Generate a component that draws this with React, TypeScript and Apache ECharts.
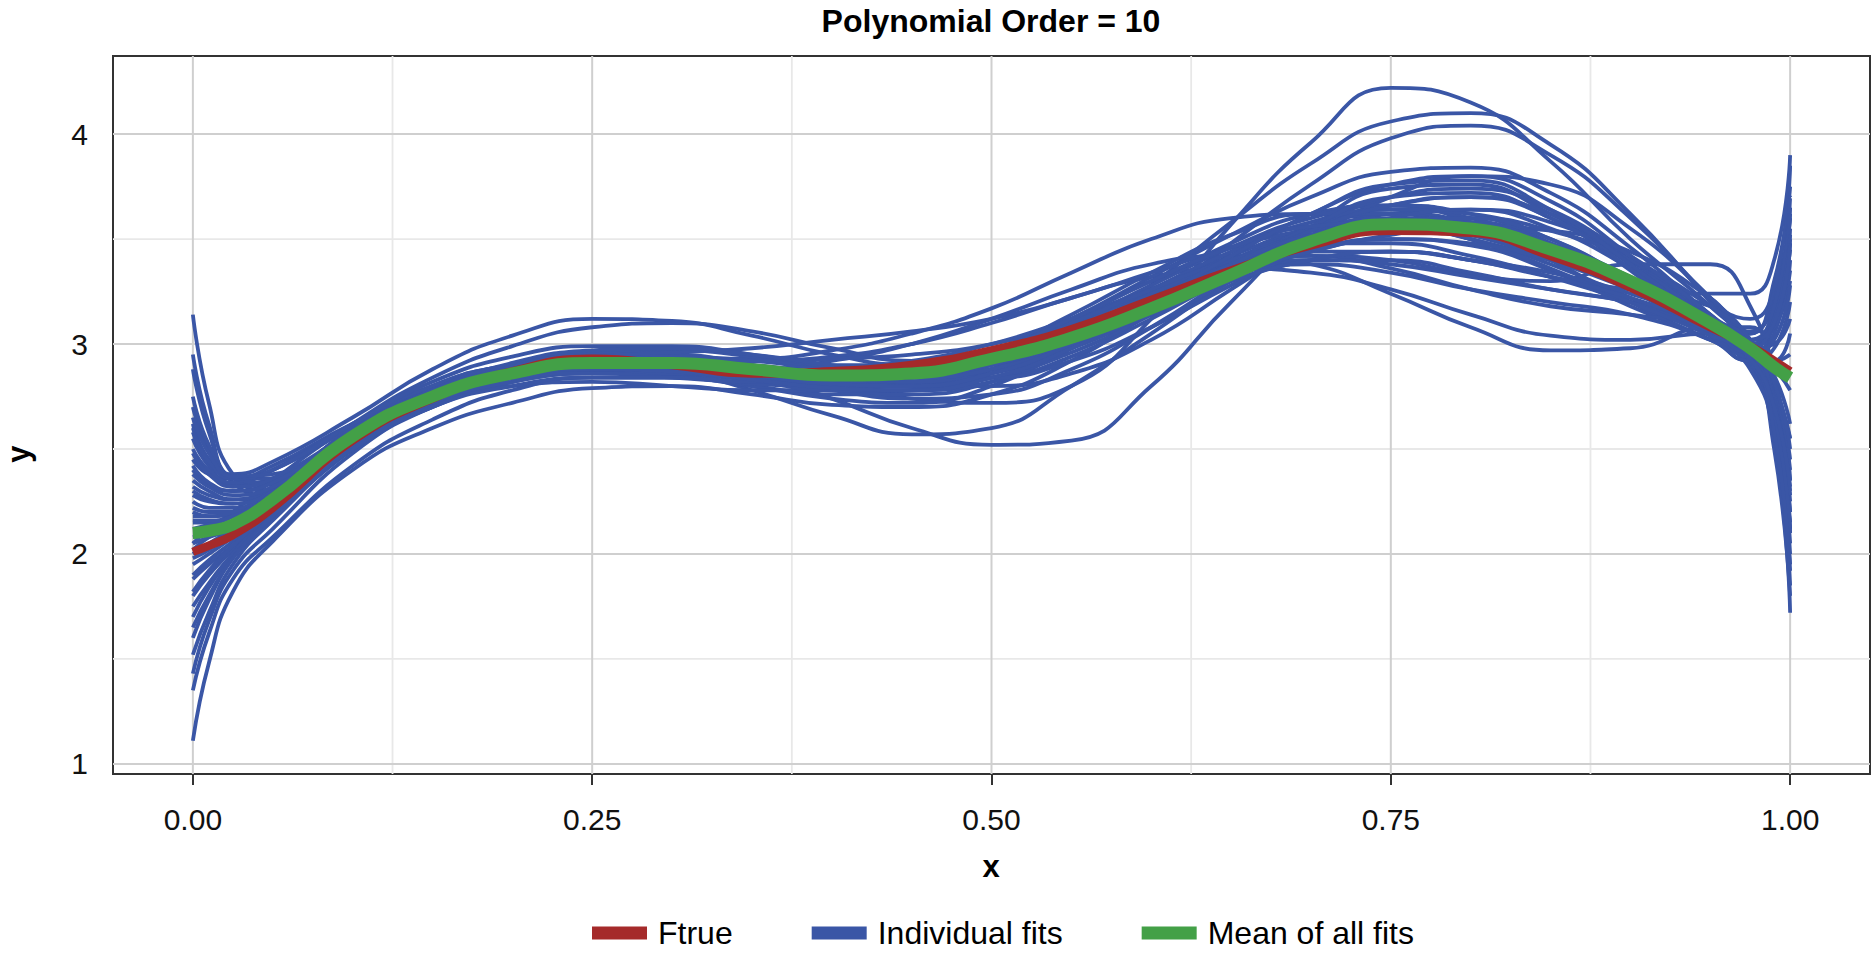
import React, { useEffect, useRef } from "react";
import * as echarts from "echarts";

const TITLE = "Polynomial Order = 10";
const X_NAME = "x";
const Y_NAME = "y";
const LEGEND_NAMES = ["Ftrue", "Individual fits", "Mean of all fits"];

const X_MIN = -0.05;
const X_MAX = 1.05;
const Y_MIN = 0.952;
const Y_MAX = 4.372;
const X_TICKS = [0, 0.25, 0.5, 0.75, 1];
const X_MINOR = [0.125, 0.375, 0.625, 0.875];
const Y_TICKS = [1, 2, 3, 4];
const Y_MINOR = [1.5, 2.5, 3.5];

const X_GRID = [0, 0.01, 0.025, 0.05, 0.1, 0.15, 0.2, 0.25, 0.3, 0.35, 0.4, 0.45, 0.5, 0.55, 0.6, 0.65, 0.7, 0.75, 0.8, 0.85, 0.9, 0.95, 0.975, 0.99, 1.0];

const FTRUE = [2.01, 2.04, 2.09, 2.22, 2.54, 2.74, 2.87, 2.93, 2.90, 2.86, 2.87, 2.90, 2.97, 3.07, 3.21, 3.35, 3.47, 3.54, 3.53, 3.42, 3.27, 3.08, 2.99, 2.92, 2.87];
const MEAN_FIT = [2.10, 2.11, 2.14, 2.26, 2.56, 2.75, 2.86, 2.91, 2.91, 2.88, 2.85, 2.86, 2.93, 3.03, 3.17, 3.33, 3.49, 3.57, 3.55, 3.45, 3.30, 3.10, 2.98, 2.89, 2.84];

const fit01 = [2.55, 2.42, 2.33, 2.36, 2.55, 2.72, 2.84, 2.90, 2.90, 2.86, 2.80, 2.74, 2.72, 2.80, 3.12, 3.57, 3.96, 4.22, 4.15, 3.87, 3.50, 3.18, 2.98, 2.70, 2.35];
const fit02 = [1.80, 1.90, 2.02, 2.18, 2.50, 2.74, 2.88, 2.94, 2.93, 2.86, 2.74, 2.60, 2.52, 2.54, 2.80, 3.20, 3.55, 3.74, 3.76, 3.62, 3.38, 3.12, 3.02, 3.15, 3.45];
const fit03 = [2.30, 2.26, 2.24, 2.30, 2.55, 2.76, 2.88, 2.92, 2.88, 2.78, 2.66, 2.57, 2.60, 2.80, 3.05, 3.30, 3.48, 3.58, 3.58, 3.47, 3.28, 3.05, 2.90, 2.62, 2.20];
const fit04 = [2.20, 2.18, 2.20, 2.30, 2.60, 2.80, 2.90, 2.93, 2.93, 2.93, 2.97, 3.05, 3.17, 3.34, 3.50, 3.60, 3.62, 3.58, 3.50, 3.40, 3.30, 3.18, 3.12, 3.25, 3.60];
const fit05 = [2.62, 2.45, 2.38, 2.44, 2.65, 2.88, 3.04, 3.12, 3.11, 3.04, 2.95, 2.90, 2.93, 3.03, 3.18, 3.33, 3.45, 3.50, 3.47, 3.35, 3.18, 3.02, 2.92, 2.55, 1.95];
const fit06 = [2.05, 2.12, 2.20, 2.35, 2.62, 2.84, 2.99, 3.08, 3.10, 3.06, 2.98, 2.92, 2.95, 3.08, 3.28, 3.48, 3.62, 3.66, 3.58, 3.40, 3.20, 3.02, 2.95, 3.10, 3.50];
const fit07 = [1.11, 1.48, 1.82, 2.06, 2.40, 2.60, 2.72, 2.79, 2.80, 2.76, 2.71, 2.70, 2.76, 2.92, 3.15, 3.38, 3.55, 3.62, 3.58, 3.46, 3.30, 3.12, 3.05, 3.30, 3.75];
const fit08 = [1.35, 1.62, 1.88, 2.08, 2.42, 2.64, 2.78, 2.84, 2.84, 2.80, 2.76, 2.78, 2.88, 3.05, 3.24, 3.38, 3.42, 3.36, 3.26, 3.18, 3.14, 3.08, 2.98, 2.58, 1.85];
const fit09 = [1.43, 1.68, 1.92, 2.12, 2.48, 2.70, 2.82, 2.87, 2.86, 2.83, 2.80, 2.82, 2.92, 3.08, 3.26, 3.42, 3.56, 3.66, 3.70, 3.60, 3.35, 3.05, 2.90, 2.75, 2.55];
const fit10 = [3.14, 2.72, 2.38, 2.30, 2.50, 2.72, 2.86, 2.93, 2.94, 2.90, 2.86, 2.86, 2.93, 3.06, 3.22, 3.38, 3.52, 3.62, 3.64, 3.55, 3.36, 3.12, 2.95, 2.62, 2.05];
const fit11 = [2.95, 2.62, 2.36, 2.33, 2.55, 2.74, 2.84, 2.88, 2.88, 2.86, 2.84, 2.86, 2.96, 3.12, 3.32, 3.52, 3.70, 3.82, 3.84, 3.72, 3.46, 3.14, 2.98, 3.12, 3.55];
const fit12 = [2.88, 2.58, 2.34, 2.28, 2.52, 2.76, 2.90, 2.96, 2.94, 2.87, 2.79, 2.76, 2.82, 2.98, 3.20, 3.42, 3.62, 3.76, 3.80, 3.68, 3.42, 3.12, 2.95, 2.60, 2.00];
const fit13 = [2.00, 2.05, 2.12, 2.25, 2.54, 2.74, 2.85, 2.88, 2.86, 2.80, 2.74, 2.72, 2.80, 3.00, 3.28, 3.58, 3.86, 4.06, 4.10, 3.95, 3.62, 3.20, 2.98, 2.80, 2.55];
const fit14 = [2.25, 2.22, 2.22, 2.28, 2.53, 2.72, 2.84, 2.90, 2.91, 2.88, 2.83, 2.80, 2.84, 2.98, 3.20, 3.48, 3.76, 3.98, 4.04, 3.90, 3.60, 3.22, 3.05, 3.25, 3.85];
const fit15 = [2.15, 2.15, 2.18, 2.30, 2.60, 2.80, 2.90, 2.93, 2.92, 2.92, 2.94, 3.00, 3.10, 3.22, 3.32, 3.36, 3.34, 3.26, 3.14, 3.04, 3.02, 3.05, 3.02, 3.10, 3.35];
const fit16 = [2.45, 2.38, 2.36, 2.42, 2.62, 2.78, 2.86, 2.88, 2.88, 2.88, 2.92, 3.00, 3.12, 3.26, 3.38, 3.42, 3.38, 3.24, 3.08, 2.97, 2.98, 3.08, 3.08, 2.85, 2.35];
const fit17 = [1.90, 1.97, 2.06, 2.22, 2.55, 2.76, 2.86, 2.88, 2.85, 2.81, 2.80, 2.84, 2.94, 3.10, 3.26, 3.38, 3.42, 3.40, 3.33, 3.30, 3.38, 3.38, 3.18, 2.80, 2.10];
const fit18 = [2.70, 2.50, 2.36, 2.36, 2.58, 2.78, 2.90, 2.95, 2.95, 2.90, 2.84, 2.82, 2.86, 2.98, 3.14, 3.30, 3.40, 3.44, 3.40, 3.32, 3.26, 3.24, 3.24, 3.40, 3.90];
const fit19 = [1.60, 1.78, 1.98, 2.20, 2.56, 2.76, 2.86, 2.90, 2.90, 2.88, 2.86, 2.88, 2.96, 3.10, 3.28, 3.46, 3.60, 3.66, 3.62, 3.48, 3.28, 3.04, 2.88, 2.55, 1.72];
const fit20 = [2.40, 2.33, 2.30, 2.35, 2.58, 2.78, 2.90, 2.96, 2.97, 2.94, 2.88, 2.82, 2.80, 2.86, 3.02, 3.26, 3.50, 3.70, 3.80, 3.76, 3.55, 3.22, 3.02, 2.78, 2.40];
const fit21 = [2.08, 2.10, 2.14, 2.24, 2.52, 2.71, 2.82, 2.87, 2.90, 2.92, 2.93, 2.95, 3.00, 3.10, 3.24, 3.34, 3.38, 3.34, 3.26, 3.20, 3.14, 3.02, 2.92, 2.98, 3.20];
const fit22 = [1.75, 1.86, 2.00, 2.18, 2.50, 2.70, 2.80, 2.82, 2.80, 2.78, 2.78, 2.84, 2.96, 3.14, 3.34, 3.52, 3.62, 3.62, 3.54, 3.42, 3.28, 3.10, 2.96, 2.70, 2.20];
const fit23 = [2.35, 2.30, 2.26, 2.30, 2.56, 2.77, 2.88, 2.92, 2.90, 2.84, 2.80, 2.80, 2.88, 3.04, 3.24, 3.44, 3.58, 3.64, 3.60, 3.46, 3.26, 3.04, 2.92, 2.92, 3.05];
const fit24 = [2.50, 2.40, 2.34, 2.40, 2.62, 2.80, 2.90, 2.94, 2.96, 2.98, 3.02, 3.06, 3.12, 3.22, 3.34, 3.46, 3.54, 3.56, 3.50, 3.38, 3.22, 3.06, 2.98, 3.15, 3.65];
const fit25 = [1.95, 2.00, 2.08, 2.22, 2.54, 2.76, 2.88, 2.92, 2.90, 2.84, 2.78, 2.74, 2.76, 2.88, 3.08, 3.32, 3.54, 3.70, 3.74, 3.64, 3.40, 3.10, 2.94, 2.66, 2.10];
const fit26 = [2.60, 2.45, 2.36, 2.40, 2.60, 2.76, 2.84, 2.86, 2.86, 2.86, 2.88, 2.92, 3.00, 3.12, 3.26, 3.36, 3.40, 3.38, 3.32, 3.26, 3.20, 3.10, 3.00, 2.85, 2.62];
const fit27 = [2.02, 2.08, 2.14, 2.26, 2.54, 2.72, 2.82, 2.86, 2.86, 2.84, 2.82, 2.82, 2.88, 3.00, 3.16, 3.32, 3.44, 3.52, 3.56, 3.54, 3.44, 3.22, 3.06, 3.20, 3.70];
const fit28 = [1.88, 1.95, 2.04, 2.20, 2.52, 2.74, 2.86, 2.92, 2.94, 2.92, 2.88, 2.86, 2.90, 3.02, 3.18, 3.36, 3.50, 3.56, 3.54, 3.44, 3.28, 3.08, 2.94, 2.50, 1.80];
const fit29 = [2.18, 2.18, 2.20, 2.30, 2.58, 2.78, 2.89, 2.92, 2.89, 2.83, 2.78, 2.78, 2.86, 3.02, 3.22, 3.40, 3.54, 3.60, 3.58, 3.48, 3.32, 3.12, 2.98, 2.78, 2.45];
const fit30 = [2.28, 2.25, 2.24, 2.30, 2.56, 2.75, 2.85, 2.88, 2.88, 2.86, 2.84, 2.86, 2.94, 3.08, 3.26, 3.44, 3.58, 3.64, 3.62, 3.50, 3.30, 3.06, 2.94, 3.05, 3.40];
const fit31 = [1.52, 1.72, 1.95, 2.16, 2.50, 2.72, 2.84, 2.88, 2.88, 2.86, 2.84, 2.84, 2.90, 3.02, 3.18, 3.32, 3.40, 3.40, 3.34, 3.26, 3.20, 3.10, 3.02, 2.74, 2.25];
const fit32 = [2.12, 2.14, 2.18, 2.28, 2.56, 2.75, 2.86, 2.90, 2.90, 2.88, 2.86, 2.86, 2.92, 3.04, 3.20, 3.36, 3.50, 3.60, 3.64, 3.58, 3.40, 3.14, 2.99, 3.08, 3.30];
const fit33 = [2.75, 2.52, 2.36, 2.34, 2.55, 2.74, 2.85, 2.89, 2.89, 2.86, 2.82, 2.80, 2.84, 2.96, 3.14, 3.36, 3.56, 3.70, 3.72, 3.60, 3.36, 3.08, 2.92, 2.64, 2.15];
const fit34 = [1.70, 1.84, 2.00, 2.20, 2.54, 2.74, 2.84, 2.86, 2.84, 2.82, 2.82, 2.86, 2.96, 3.12, 3.30, 3.46, 3.56, 3.58, 3.52, 3.40, 3.26, 3.10, 3.00, 3.18, 3.62];
const fit35 = [2.22, 2.20, 2.20, 2.28, 2.56, 2.76, 2.87, 2.91, 2.91, 2.89, 2.87, 2.88, 2.94, 3.06, 3.22, 3.38, 3.50, 3.55, 3.52, 3.42, 3.28, 3.12, 3.02, 2.82, 2.50];
const fit36 = [2.48, 2.38, 2.32, 2.36, 2.58, 2.77, 2.87, 2.90, 2.88, 2.84, 2.82, 2.84, 2.92, 3.06, 3.24, 3.40, 3.52, 3.56, 3.52, 3.42, 3.28, 3.08, 2.96, 2.88, 2.78];
const fit37 = [1.98, 2.02, 2.10, 2.24, 2.56, 2.78, 2.90, 2.94, 2.92, 2.86, 2.80, 2.78, 2.82, 2.94, 3.12, 3.32, 3.48, 3.58, 3.60, 3.54, 3.40, 3.18, 3.02, 2.72, 2.30];
const fit38 = [2.32, 2.28, 2.26, 2.32, 2.58, 2.76, 2.86, 2.90, 2.92, 2.92, 2.90, 2.90, 2.94, 3.04, 3.18, 3.32, 3.44, 3.44, 3.40, 3.34, 3.24, 3.10, 2.98, 3.00, 3.12];
const fit39 = [2.58, 2.44, 2.36, 2.40, 2.62, 2.82, 2.94, 2.99, 2.99, 2.95, 2.89, 2.84, 2.84, 2.92, 3.08, 3.28, 3.46, 3.58, 3.60, 3.50, 3.30, 3.06, 2.94, 2.70, 2.28];
const fit40 = [1.82, 1.92, 2.04, 2.20, 2.50, 2.70, 2.80, 2.84, 2.84, 2.82, 2.82, 2.86, 2.95, 3.10, 3.26, 3.40, 3.48, 3.48, 3.42, 3.32, 3.20, 3.06, 2.96, 3.02, 3.28];
const fit41 = [2.38, 2.32, 2.28, 2.32, 2.57, 2.78, 2.91, 2.97, 2.98, 2.95, 2.90, 2.86, 2.88, 2.98, 3.16, 3.36, 3.54, 3.66, 3.70, 3.62, 3.42, 3.14, 2.97, 2.66, 2.12];
const fit42 = [2.05, 2.08, 2.12, 2.24, 2.53, 2.73, 2.84, 2.88, 2.87, 2.83, 2.79, 2.78, 2.84, 2.98, 3.18, 3.38, 3.52, 3.58, 3.54, 3.42, 3.26, 3.08, 2.98, 3.12, 3.52];
const fit43 = [2.65, 2.48, 2.37, 2.38, 2.59, 2.78, 2.88, 2.91, 2.89, 2.85, 2.83, 2.86, 2.96, 3.12, 3.30, 3.46, 3.56, 3.58, 3.50, 3.36, 3.20, 3.04, 2.94, 2.58, 1.92];
const fit44 = [1.65, 1.80, 1.98, 2.18, 2.52, 2.74, 2.86, 2.91, 2.92, 2.90, 2.86, 2.84, 2.88, 3.00, 3.16, 3.32, 3.44, 3.50, 3.48, 3.40, 3.28, 3.12, 3.02, 3.10, 3.48];
const fit45 = [2.16, 2.16, 2.18, 2.27, 2.55, 2.75, 2.86, 2.90, 2.89, 2.85, 2.81, 2.80, 2.86, 3.00, 3.20, 3.42, 3.62, 3.76, 3.78, 3.64, 3.38, 3.08, 2.93, 2.70, 2.32];
const fit46 = [2.42, 2.34, 2.30, 2.34, 2.58, 2.77, 2.87, 2.90, 2.90, 2.88, 2.86, 2.87, 2.92, 3.02, 3.16, 3.30, 3.40, 3.44, 3.40, 3.32, 3.22, 3.08, 2.98, 2.92, 2.95];

const FITS = [
  fit01, fit02, fit03, fit04, fit05, fit06, fit07, fit08, fit09, fit10,
  fit11, fit12, fit13, fit14, fit15, fit16, fit17, fit18, fit19, fit20,
  fit21, fit22, fit23, fit24, fit25, fit26, fit27, fit28, fit29, fit30,
  fit31, fit32, fit33, fit34, fit35, fit36, fit37, fit38, fit39, fit40,
  fit41, fit42, fit43, fit44, fit45, fit46,
];

const FONT = '"Liberation Sans", Arial, Helvetica, sans-serif';
const BLUE = "#3A56A6";
const RED = "#A52A2A";
const GREEN = "#43A047";
const MAJOR_GRID = "#CFCFCF";
const MINOR_GRID = "#E8E8E8";
const DARK = "#333333";

export default function App() {
  const ref = useRef<HTMLDivElement>(null);

  useEffect(() => {
    if (!ref.current) return;
    const chart = echarts.init(ref.current, null, { renderer: "svg" });

    const xy = (ys: number[]) => X_GRID.map((x, i) => [x, ys[i]]);

    const gridSeries = (vals: number[], vertical: boolean, color: string, width: number) =>
      vals.map((v) => ({
        type: "line",
        data: vertical ? [[v, Y_MIN], [v, Y_MAX]] : [[X_MIN, v], [X_MAX, v]],
        symbol: "none",
        silent: true,
        z: 1,
        lineStyle: { color, width },
        emphasis: { disabled: true },
        animation: false,
      }));

    const blueSeries = FITS.map((f) => ({
      type: "line",
      name: "Individual fits",
      data: xy(f),
      smooth: 0.5,
      symbol: "none",
      silent: true,
      z: 3,
      color: BLUE,
      lineStyle: { color: BLUE, width: 3.8 },
      itemStyle: { color: BLUE },
      emphasis: { disabled: true },
      animation: false,
    }));

    const option: any = {
      animation: false,
      backgroundColor: "#FFFFFF",
      grid: {
        left: 113,
        top: 56,
        width: 1757,
        height: 718,
        show: true,
        borderColor: DARK,
        borderWidth: 2,
        backgroundColor: "transparent",
        outerBoundsMode: "none",
      },
      xAxis: {
        type: "value",
        min: X_MIN,
        max: X_MAX,
        axisLine: { show: false },
        splitLine: { show: false },
        minorSplitLine: { show: false },
        axisTick: {
          show: true,
          customValues: X_TICKS,
          length: 11,
          lineStyle: { color: DARK, width: 2 },
        },
        axisLabel: {
          show: true,
          customValues: X_TICKS,
          formatter: (v: number) => v.toFixed(2),
          fontSize: 30,
          color: "#111111",
          fontFamily: FONT,
          margin: 30,
        },
      },
      yAxis: {
        type: "value",
        min: Y_MIN,
        max: Y_MAX,
        axisLine: { show: false },
        splitLine: { show: false },
        minorSplitLine: { show: false },
        axisTick: {
          show: true,
          customValues: Y_TICKS,
          length: 11,
          lineStyle: { color: DARK, width: 2 },
        },
        axisLabel: {
          show: true,
          customValues: Y_TICKS,
          formatter: (v: number) => String(v),
          fontSize: 30,
          color: "#111111",
          fontFamily: FONT,
          margin: 25,
        },
      },
      legend: {
        data: LEGEND_NAMES,
        left: 592,
        top: 917,
        padding: 0,
        itemWidth: 55,
        itemHeight: 13,
        itemGap: 79,
        icon: "rect",
        selectedMode: false,
        itemStyle: { borderWidth: 0 },
        textStyle: { fontSize: 32, color: "#000000", fontFamily: FONT, padding: [0, 0, 0, 6] },
      },
      graphic: [
        {
          type: "text",
          x: 991,
          y: 21,
          silent: true,
          style: { text: TITLE, align: "center", verticalAlign: "middle", font: `bold 32px ${FONT}`, fill: "#000000" },
        },
        {
          type: "text",
          x: 991,
          y: 866,
          silent: true,
          style: { text: X_NAME, align: "center", verticalAlign: "middle", font: `bold 31px ${FONT}`, fill: "#000000" },
        },
        {
          type: "text",
          x: 18,
          y: 454,
          rotation: Math.PI / 2,
          silent: true,
          style: { text: Y_NAME, align: "center", verticalAlign: "middle", font: `bold 31px ${FONT}`, fill: "#000000" },
        },
      ],
      series: [
        ...gridSeries(X_MINOR, true, MINOR_GRID, 1.8),
        ...gridSeries(Y_MINOR, false, MINOR_GRID, 1.8),
        ...gridSeries(X_TICKS, true, MAJOR_GRID, 2),
        ...gridSeries(Y_TICKS, false, MAJOR_GRID, 2),
        ...blueSeries,
        {
          type: "line",
          name: "Ftrue",
          data: xy(FTRUE),
          smooth: 0.5,
          symbol: "none",
          silent: true,
          z: 4,
          color: RED,
          lineStyle: { color: RED, width: 8.5, cap: "butt" },
          itemStyle: { color: RED },
          emphasis: { disabled: true },
          animation: false,
        },
        {
          type: "line",
          name: "Mean of all fits",
          data: xy(MEAN_FIT),
          smooth: 0.5,
          symbol: "none",
          silent: true,
          z: 5,
          color: GREEN,
          lineStyle: { color: GREEN, width: 12, cap: "butt" },
          itemStyle: { color: GREEN },
          emphasis: { disabled: true },
          animation: false,
        },
      ],
    };

    chart.setOption(option);
    return () => chart.dispose();
  }, []);

  return (
    <div
      ref={ref}
      style={{ position: "absolute", left: 0, top: 0, width: 1872, height: 961, background: "#FFFFFF" }}
    />
  );
}
